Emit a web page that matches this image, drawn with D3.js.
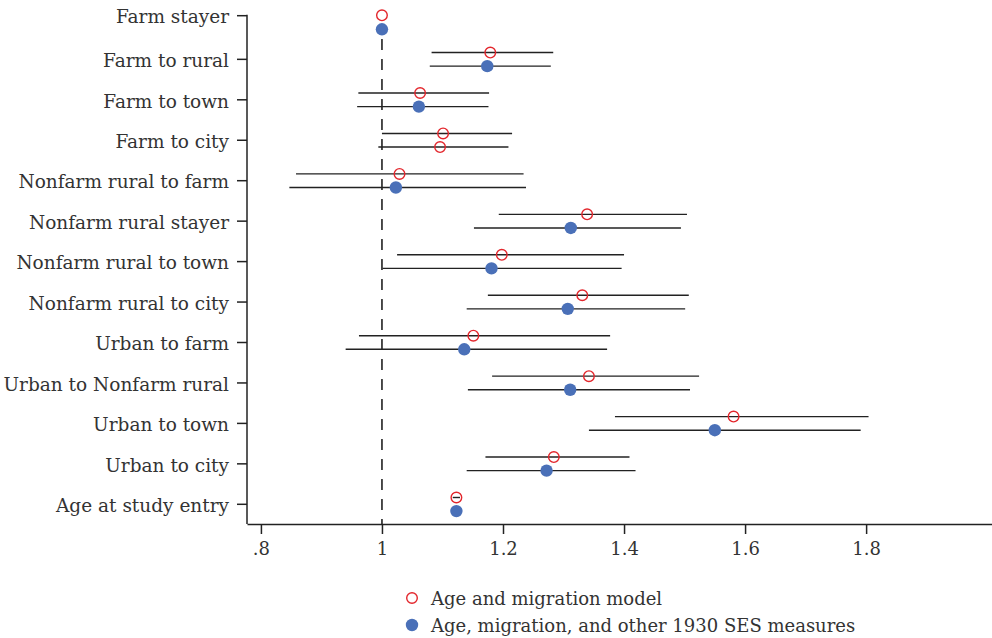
<!DOCTYPE html>
<html>
<head>
<meta charset="utf-8">
<script src="https://cdn.jsdelivr.net/npm/d3@7"></script>
<style>
  html, body { margin: 0; padding: 0; background: #fff; }
  svg { display: block; }
  text { font-family: "DejaVu Serif", "Liberation Serif", serif; fill: #333; }
</style>
</head>
<body>
<svg id="chart" width="992" height="638"></svg>
<script>
const categories = [
  "Farm stayer", "Farm to rural", "Farm to town", "Farm to city",
  "Nonfarm rural to farm", "Nonfarm rural stayer", "Nonfarm rural to town",
  "Nonfarm rural to city", "Urban to farm", "Urban to Nonfarm rural",
  "Urban to town", "Urban to city", "Age at study entry"
];
// Age and migration model
const model1Est = [1.000, 1.179, 1.063, 1.101, 1.029, 1.339, 1.198, 1.331, 1.151, 1.342, 1.581, 1.284, 1.123];
const model1Lo  = [1.000, 1.082, 0.961, 1.000, 0.858, 1.193, 1.025, 1.175, 0.962, 1.182, 1.385, 1.171, 1.117];
const model1Hi  = [1.000, 1.283, 1.177, 1.215, 1.234, 1.504, 1.400, 1.507, 1.377, 1.524, 1.804, 1.409, 1.129];
// Age, migration, and other 1930 SES measures
const model2Est = [1.000, 1.174, 1.061, 1.096, 1.023, 1.312, 1.181, 1.307, 1.136, 1.311, 1.550, 1.272, 1.123];
const model2Lo  = [1.000, 1.079, 0.959, 0.994, 0.847, 1.152, 1.001, 1.140, 0.940, 1.142, 1.342, 1.140, 1.123];
const model2Hi  = [1.000, 1.279, 1.176, 1.209, 1.238, 1.494, 1.396, 1.501, 1.372, 1.509, 1.791, 1.419, 1.123];
const xTickValues = [0.8, 1, 1.2, 1.4, 1.6, 1.8];
const xTickLabels = [".8", "1", "1.2", "1.4", "1.6", "1.8"];
const legendLabels = ["Age and migration model", "Age, migration, and other 1930 SES measures"];

const RED = "#e3262c", BLUE = "#4a70b8", INK = "#222";
const svg = d3.select("#chart");

const x = d3.scaleLinear().domain([0.777, 2.008]).range([247, 992]);
const y = d3.scalePoint().domain(categories).range([18.9, 504.3]);
const axisY = 524;
const TOP_SHIFT = -3.2; // top row sits slightly higher in the reference (squeezed at plot top)

function rowY(d, i) { return y(d) + (i === 0 ? TOP_SHIFT : 0); }
// offsets of the two series relative to the category tick
function off(i, s) {
  if (i === 0) return s === 0 ? -0.4 : 13.6;
  return s === 0 ? -6.8 : 6.8;
}

// reference line at 1
svg.append("line")
  .attr("x1", x(1)).attr("x2", x(1))
  .attr("y1", 39).attr("y2", axisY)
  .attr("stroke", INK).attr("stroke-width", 1.6)
  .attr("stroke-dasharray", "11,9");

// y axis
const yAxis = d3.axisLeft(y).tickSize(10).tickPadding(8).tickSizeOuter(0);
const gy = svg.append("g").attr("transform", `translate(247,0)`).call(yAxis);
gy.selectAll(".tick").attr("transform", (d, i) => `translate(0,${rowY(d, i)})`);
gy.select(".domain").attr("d", `M0,${rowY(categories[0], 0) - 1}V${axisY}`).attr("stroke", INK).attr("stroke-width", 1.5);
gy.selectAll(".tick line").attr("stroke", INK).attr("stroke-width", 1.5);
gy.selectAll(".tick text").style("font-size", "18.5px").attr("fill", "#333").attr("dy", "0.42em")
  .style("font-family", '"DejaVu Serif", serif');

// x axis
const xAxis = d3.axisBottom(x).tickValues(xTickValues).tickSize(10).tickPadding(8)
  .tickFormat((d, i) => xTickLabels[i]).tickSizeOuter(0);
const gx = svg.append("g").attr("transform", `translate(0,${axisY})`).call(xAxis);
gx.select(".domain").attr("stroke", INK).attr("stroke-width", 1.5);
gx.selectAll(".tick line").attr("stroke", INK).attr("stroke-width", 1.5);
gx.selectAll(".tick text").style("font-size", "18px").attr("fill", "#333")
  .style("font-family", '"DejaVu Serif", serif');

const series = [
  { est: model1Est, lo: model1Lo, hi: model1Hi },
  { est: model2Est, lo: model2Lo, hi: model2Hi }
];

series.forEach((s, si) => {
  const g = svg.append("g");
  g.selectAll("line.ci").data(categories).join("line")
    .attr("class", "ci")
    .attr("x1", (d, i) => x(s.lo[i])).attr("x2", (d, i) => x(s.hi[i]))
    .attr("y1", (d, i) => rowY(d, i) + off(i, si)).attr("y2", (d, i) => rowY(d, i) + off(i, si))
    .attr("stroke", INK).attr("stroke-width", 1.4);
});

series.forEach((s, si) => {
  const g = svg.append("g");
  g.selectAll("circle").data(categories).join("circle")
    .attr("cx", (d, i) => x(s.est[i]))
    .attr("cy", (d, i) => rowY(d, i) + off(i, si))
    .each(function(d, i) {
      const hollow = si === 0 || i === 3; // reference shows a hollow marker for second "Farm to city" estimate
      d3.select(this)
        .attr("r", hollow ? 5.3 : 6.2)
        .attr("fill", hollow ? "none" : BLUE)
        .attr("stroke", hollow ? RED : "none")
        .attr("stroke-width", hollow ? 1.4 : 0);
    });
});

// legend
const legend = svg.append("g");
legendLabels.forEach((lab, i) => {
  const ly = 598 + i * 27;
  if (i === 0) {
    legend.append("circle").attr("cx", 412).attr("cy", ly).attr("r", 5.3)
      .attr("fill", "none").attr("stroke", RED).attr("stroke-width", 1.4);
  } else {
    legend.append("circle").attr("cx", 412).attr("cy", ly).attr("r", 6.2).attr("fill", BLUE);
  }
  legend.append("text").attr("x", 431).attr("y", ly).attr("dy", "0.38em")
    .style("font-size", "18px").text(lab);
});
</script>
</body>
</html>
